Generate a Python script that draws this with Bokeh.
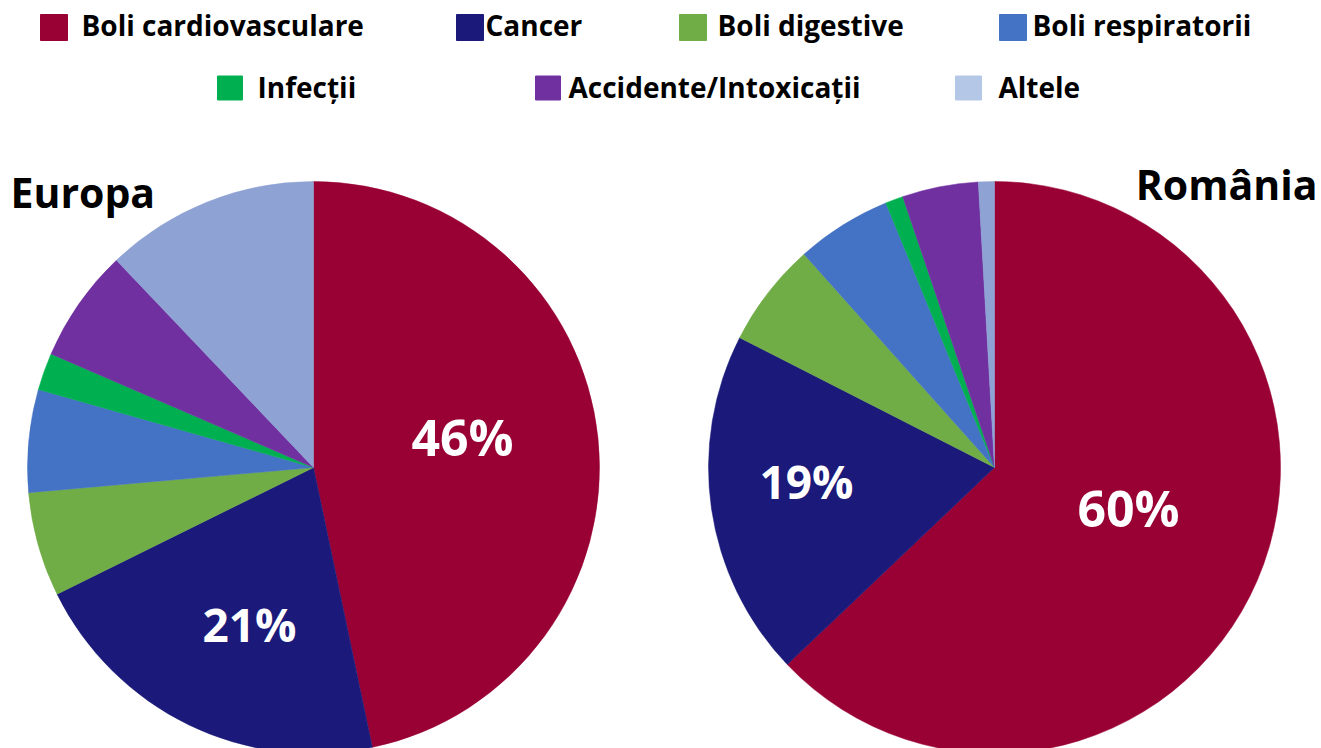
import math
from bokeh.plotting import figure
from bokeh.models import Range1d, ColumnDataSource
from bokeh.core.properties import value
from bokeh.embed import file_html
from bokeh.resources import INLINE

# ---------------- data ----------------
categories = ["Boli cardiovasculare", "Cancer", "Boli digestive", "Boli respiratorii",
              "Infecții", "Accidente/Intoxicații", "Altele"]
europa_values = [46.7, 21.0, 5.9, 5.8, 2.1, 6.4, 12.1]
romania_values = [62.9, 19.6, 5.9, 5.4, 1.0, 4.3, 0.9]
europa_labels = ["46%", "21%"]
romania_labels = ["60%", "19%"]
titles = ["Europa", "România"]

pie_colors = ["#990033", "#1B1A7A", "#70AD47", "#4472C4", "#00B050", "#7030A0", "#8EA2D4"]
legend_colors = ["#990033", "#1B1A7A", "#70AD47", "#4472C4", "#00B050", "#7030A0", "#B4C7E7"]

# ---------------- layout (reference pixel coords, y downwards) ----------------
W, H = 1321, 748
def Y(y):
    return 748 - y

FONT = value("Open Sans")

p = figure(width=W, height=H, output_backend="svg", toolbar_location=None,
           x_range=Range1d(0, W), y_range=Range1d(748 - H, 748),
           min_border=0)
p.axis.visible = False
p.grid.visible = False
p.outline_line_color = None
p.background_fill_color = "white"
p.border_fill_color = "white"

R = 286

def draw_pie(values, cx, cy):
    total = sum(values)
    cum = 0.0
    starts, ends = [], []
    for v in values:
        a0 = cum / total
        cum += v
        a1 = cum / total
        starts.append(math.pi / 2 - 2 * math.pi * a1)
        ends.append(math.pi / 2 - 2 * math.pi * a0)
    src = ColumnDataSource(dict(x=[cx] * len(values), y=[Y(cy)] * len(values),
                                start=starts, end=ends, color=pie_colors, cat=categories))
    p.wedge(x="x", y="y", radius=R, start_angle="start", end_angle="end",
            fill_color="color", line_color="color", line_width=0.5, source=src)

draw_pie(europa_values, 313, 467)
draw_pie(romania_values, 994, 467)

# percent labels
big_src = ColumnDataSource(dict(x=[462, 1128], y=[Y(436), Y(507)],
                                t=[europa_labels[0], romania_labels[0]]))
p.text(x="x", y="y", text="t", source=big_src, text_font=FONT, text_font_style="bold",
       text_font_size="50px", text_color="white", text_align="center",
       text_baseline="alphabetic")
small_src = ColumnDataSource(dict(x=[249, 806], y=[Y(623), Y(480)],
                                  t=[europa_labels[1], romania_labels[1]]))
p.text(x="x", y="y", text="t", source=small_src, text_font=FONT, text_font_style="bold",
       text_font_size="46px", text_color="white", text_align="center",
       text_baseline="alphabetic")

# titles
p.text(x=[10], y=[Y(191)], text=[titles[0]], text_font=FONT, text_font_style="bold",
       text_font_size="41px", text_color="black", text_align="left",
       text_baseline="alphabetic")
p.text(x=[1317], y=[Y(183)], text=[titles[1]], text_font=FONT, text_font_style="bold",
       text_font_size="41px", text_color="black", text_align="right",
       text_baseline="alphabetic")

# legend
sq_x = [53.5, 469.5, 692.5, 1012.5, 229.5, 547.5, 968]
sq_y = [27, 27, 27, 27, 87.5, 87.5, 87.5]
sq_w = [27, 27, 27, 27, 25, 25, 26]
sq_h = [26, 26, 26, 26, 24, 24, 24]
tx_x = [81, 485, 717, 1032, 257, 568, 998]
tx_y = [24, 24, 24, 24, 86, 86, 86]

leg_src = ColumnDataSource(dict(x=sq_x, y=[Y(v) for v in sq_y], w=sq_w, h=sq_h,
                                color=legend_colors, tx=tx_x, ty=[Y(v) for v in tx_y],
                                t=categories))
p.rect(x="x", y="y", width="w", height="h", fill_color="color", line_color="color",
       source=leg_src)
p.text(x="tx", y="ty", text="t", source=leg_src, text_font=FONT, text_font_style="bold",
       text_font_size="28px", text_color="black", text_align="left",
       text_baseline="alphabetic")

open("out.html", "w").write(file_html(p, INLINE))
